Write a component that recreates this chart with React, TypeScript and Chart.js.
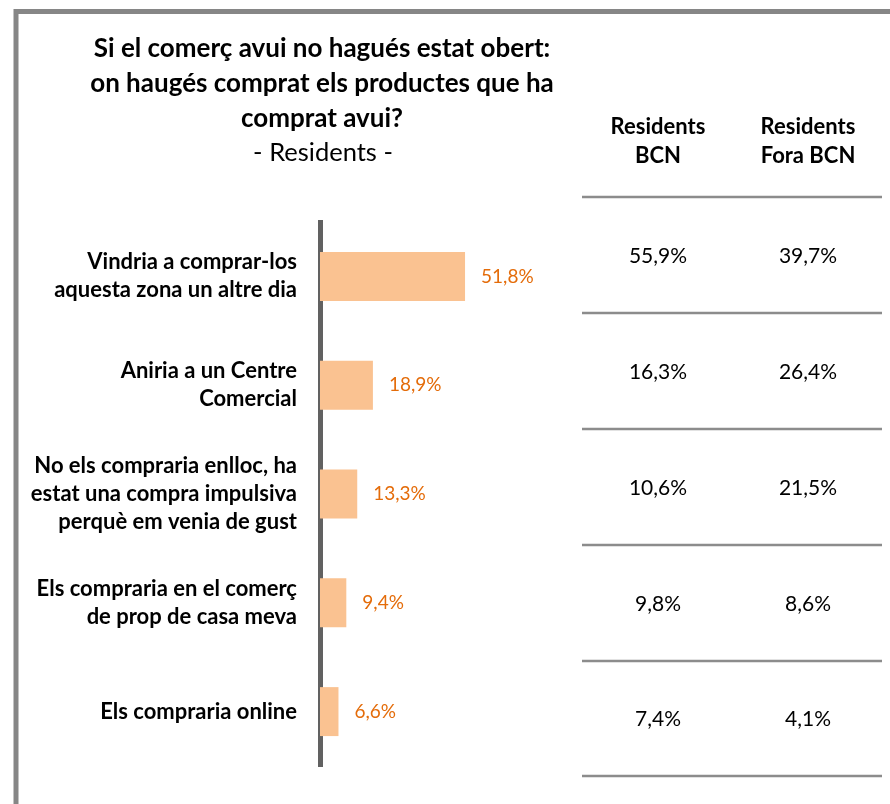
import React, { useEffect, useRef } from "react";
import { Chart, registerables } from "chart.js";

Chart.register(...registerables);

const titleLines = [
  "Si el comerç avui no hagués estat obert:",
  "on haugés comprat els productes que ha",
  "comprat avui?",
];
const subtitleText = "- Residents -";

const categories: string[][] = [
  ["Vindria a comprar-los", "aquesta zona un altre dia"],
  ["Aniria a un Centre", "Comercial"],
  ["No els compraria enlloc, ha", "estat una compra impulsiva", "perquè em venia de gust"],
  ["Els compraria en el comerç", "de prop de casa meva"],
  ["Els compraria online"],
];
const residentsValues = [51.8, 18.9, 13.3, 9.4, 6.6];

const tableHeaders: string[][] = [
  ["Residents", "BCN"],
  ["Residents", "Fora BCN"],
];
const bcnValues = [55.9, 16.3, 10.6, 9.8, 7.4];
const foraBcnValues = [39.7, 26.4, 21.5, 8.6, 4.1];

const FONT = "Lato, 'Open Sans', sans-serif";
const fmt = (v: number) => v.toFixed(1).replace(".", ",") + "%";

const decorPlugin = {
  id: "decor",
  beforeDraw(chart: any) {
    const ctx = chart.ctx;
    ctx.save();
    ctx.fillStyle = "#fff";
    ctx.fillRect(0, 0, chart.width, chart.height);
    // frame
    ctx.strokeStyle = "#868686";
    ctx.lineWidth = 5;
    ctx.beginPath();
    ctx.moveTo(16, 820);
    ctx.lineTo(16, 11.5);
    ctx.lineTo(900, 11.5);
    ctx.stroke();

    // title
    ctx.fillStyle = "#000";
    ctx.textAlign = "center";
    ctx.textBaseline = "middle";
    ctx.font = `bold 26px ${FONT}`;
    titleLines.forEach((t, i) => ctx.fillText(t, 322, 49 + i * 35));
    ctx.font = `25.5px ${FONT}`;
    ctx.fillText(subtitleText, 323, 153);

    // table
    const cols = [658, 808];
    ctx.font = `bold 22px ${FONT}`;
    tableHeaders.forEach((h, c) => {
      h.forEach((line, j) => ctx.fillText(line, cols[c], 127 + j * 29));
    });
    const lineYs = [197, 313, 429, 545, 661, 776];
    ctx.strokeStyle = "#8c8c8c";
    ctx.lineWidth = 2.5;
    lineYs.forEach((y) => {
      ctx.beginPath();
      ctx.moveTo(582, y);
      ctx.lineTo(882, y);
      ctx.stroke();
    });
    ctx.font = `21px ${FONT}`;
    [bcnValues, foraBcnValues].forEach((vals, c) => {
      vals.forEach((v, r) => {
        ctx.fillText(fmt(v), cols[c], (lineYs[r] + lineYs[r + 1]) / 2 + 1);
      });
    });
    ctx.restore();
  },
  afterDatasetsDraw(chart: any) {
    const ctx = chart.ctx;
    const meta = chart.getDatasetMeta(0);
    ctx.save();
    ctx.fillStyle = "#E46C0A";
    ctx.font = `19px ${FONT}`;
    ctx.textAlign = "left";
    ctx.textBaseline = "middle";
    meta.data.forEach((bar: any, i: number) => {
      ctx.fillText(fmt(residentsValues[i]), bar.x + 16, bar.y);
    });
    ctx.restore();
  },
};

export default function App() {
  const ref = useRef<HTMLCanvasElement>(null);
  useEffect(() => {
    if (!ref.current) return;
    const chart = new Chart(ref.current, {
      type: "bar",
      data: {
        labels: categories,
        datasets: [
          {
            data: residentsValues,
            backgroundColor: "#FAC291",
            borderWidth: 0,
            barPercentage: 0.45,
            categoryPercentage: 1,
          },
        ],
      },
      options: {
        indexAxis: "y",
        animation: false,
        responsive: false,
        layout: { padding: { left: 0, top: 222, bottom: 38, right: 290 } },
        plugins: {
          legend: { display: false },
          tooltip: { enabled: false },
          title: { display: false },
        },
        scales: {
          x: { display: false, min: 0, max: 100 },
          y: {
            z: 1,
            afterFit: (scale: any) => {
              scale.width = 320;
              scale.paddingTop = 0;
              scale.paddingBottom = 0;
            },
            grid: { display: false, drawTicks: false },
            border: { display: true, color: "#616161", width: 5 },
            ticks: {
              color: "#000",
              padding: 23,
              font: { family: FONT, size: 22, weight: "bold", lineHeight: "28px" } as any,
            },
          },
        },
      },
      plugins: [decorPlugin],
    });
    return () => chart.destroy();
  }, []);
  return (
    <div style={{ position: "absolute", left: 0, top: 0, width: 890, height: 804 }}>
      <canvas ref={ref} width={890} height={804} style={{ display: "block" }} />
    </div>
  );
}
